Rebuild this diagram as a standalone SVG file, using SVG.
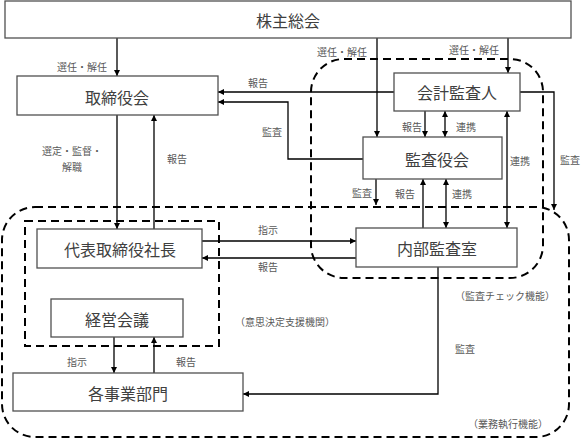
<svg xmlns="http://www.w3.org/2000/svg" width="587" height="440" viewBox="0 0 587 440">
<style>
.box{fill:#fff;stroke:#505050;stroke-width:1.3}
.bt{font-family:"Noto Sans CJK JP","Noto Sans",sans-serif;font-size:16px;fill:#404040;text-anchor:middle;dominant-baseline:central}
.lb{font-family:"Noto Sans CJK JP","Noto Sans",sans-serif;font-size:10px;fill:#595959;text-anchor:middle;dominant-baseline:central}
.c{fill:none;stroke:#000;stroke-width:1.3}
.a{marker-end:url(#ah)}
.d{marker-start:url(#as);marker-end:url(#ah)}
.dash{fill:none;stroke:#000;stroke-width:2;stroke-dasharray:8 5}
</style>
<defs>
<marker id="ah" markerUnits="userSpaceOnUse" markerWidth="8" markerHeight="8" refX="6" refY="3" orient="auto"><path d="M0,0 L6,3 L0,6 Z" fill="#000"/></marker>
<marker id="as" markerUnits="userSpaceOnUse" markerWidth="8" markerHeight="8" refX="0" refY="3" orient="auto"><path d="M6,0 L0,3 L6,6 Z" fill="#000"/></marker>
</defs>
<rect width="587" height="440" fill="#fff"/>
<g id="regions">
<rect class="dash" x="2" y="207" width="567" height="230" rx="33"/>
<rect class="dash" x="311" y="59" width="232" height="219" rx="33"/>
<rect class="dash" x="25" y="221" width="194" height="125"/>
</g>
<g id="connectors">
<path class="c a" d="M117,38 V76"/>
<path class="c a" d="M377,38 V137"/>
<path class="c a" d="M508,38 V73"/>
<path class="c a" d="M394,92 H218"/>
<path class="c a" d="M363,159 H288 V102 H218"/>
<path class="c a" d="M117,115 V229"/>
<path class="c a" d="M154,229 V115"/>
<path class="c a" d="M425,111 V137"/>
<path class="c d" d="M445,111 V137"/>
<path class="c d" d="M507,111 V228"/>
<path class="c a" d="M520,92 H554 V210"/>
<path class="c a" d="M376,179 V205"/>
<path class="c a" d="M423,228 V179"/>
<path class="c d" d="M446,179 V228"/>
<path class="c a" d="M202,241 H356"/>
<path class="c a" d="M356,258 H202"/>
<path class="c a" d="M114,337 V373"/>
<path class="c a" d="M154,373 V337"/>
<path class="c a" d="M438,267 V394 H243"/>
</g>
<g id="n-kabunushi"><rect class="box" x="5" y="1" width="566" height="37"/><text class="bt" x="288" y="20">株主総会</text></g>
<g id="n-torishimariyakukai"><rect class="box" x="17" y="76" width="201" height="39"/><text class="bt" x="117" y="97">取締役会</text></g>
<g id="n-kaikei"><rect class="box" x="394" y="73" width="126" height="38"/><text class="bt" x="457" y="92">会計監査人</text></g>
<g id="n-kansayakukai"><rect class="box" x="363" y="137" width="139" height="42"/><text class="bt" x="437" y="159">監査役会</text></g>
<g id="n-daihyo"><rect class="box" x="37" y="229" width="165" height="39"/><text class="bt" x="120" y="249">代表取締役社長</text></g>
<g id="n-naibu"><rect class="box" x="356" y="228" width="161" height="39"/><text class="bt" x="437" y="248">内部監査室</text></g>
<g id="n-keiei"><rect class="box" x="51" y="299" width="132" height="38"/><text class="bt" x="117" y="319">経営会議</text></g>
<g id="n-jigyo"><rect class="box" x="13" y="373" width="230" height="38"/><text class="bt" x="128" y="393">各事業部門</text></g>
<g id="labels">
<text class="lb" x="82" y="66">選任・解任</text>
<text class="lb" x="342" y="51">選任・解任</text>
<text class="lb" x="474" y="49">選任・解任</text>
<text class="lb" x="258" y="82">報告</text>
<text class="lb" x="272" y="131">監査</text>
<text class="lb" x="72" y="150">選定・監督・</text>
<text class="lb" x="72" y="166">解職</text>
<text class="lb" x="177" y="158">報告</text>
<text class="lb" x="412" y="126">報告</text>
<text class="lb" x="466" y="126">連携</text>
<text class="lb" x="520" y="160">連携</text>
<text class="lb" x="570" y="159">監査</text>
<text class="lb" x="362" y="192">監査</text>
<text class="lb" x="405" y="193">報告</text>
<text class="lb" x="462" y="193">連携</text>
<text class="lb" x="268" y="229">指示</text>
<text class="lb" x="268" y="266">報告</text>
<text class="lb" x="505" y="295">（監査チェック機能）</text>
<text class="lb" x="285" y="321">（意思決定支援機関）</text>
<text class="lb" x="77" y="361">指示</text>
<text class="lb" x="186" y="361">報告</text>
<text class="lb" x="465" y="348">監査</text>
<text class="lb" x="508" y="423">（業務執行機能）</text>
</g>
</svg>
